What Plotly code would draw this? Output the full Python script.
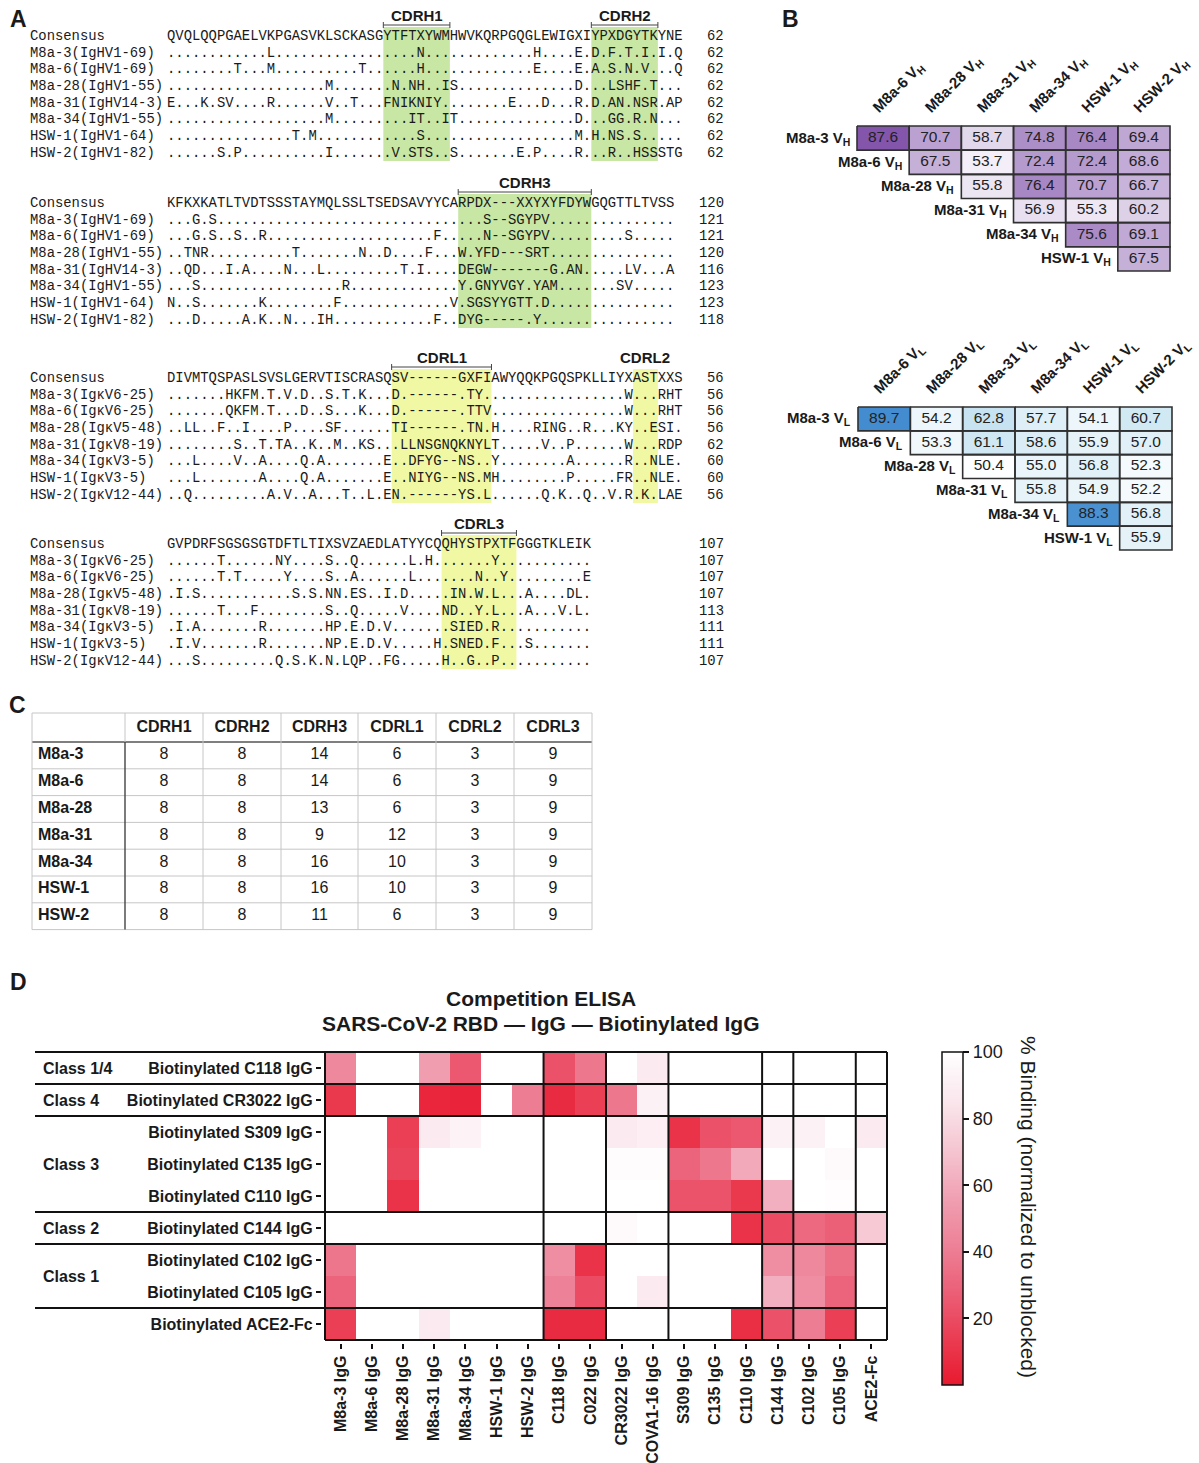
import plotly.graph_objects as go

# The figure fills the whole 1199x1463 page (the body margin is removed after plotting).
W, H = 1199, 1463
def px(x): return x / W
def py(y): return 1 - y / H

SANS = "Liberation Sans, Arial, Helvetica, sans-serif"
MONO = "Liberation Mono, Courier New, monospace"
INK = "#1a1a1a"

# ---------------- Panel A : alignment data ----------------
HEAVY_NAMES = ["M8a-3(IgHV1-69)", "M8a-6(IgHV1-69)", "M8a-28(IgHV1-55)", "M8a-31(IgHV14-3)",
               "M8a-34(IgHV1-55)", "HSW-1(IgHV1-64)", "HSW-2(IgHV1-82)"]
LIGHT_NAMES = ["M8a-3(IgκV6-25)", "M8a-6(IgκV6-25)", "M8a-28(IgκV5-48)", "M8a-31(IgκV8-19)",
               "M8a-34(IgκV3-5)", "HSW-1(IgκV3-5)", "HSW-2(IgκV12-44)"]

VH_A_CONS = "QVQLQQPGAELVKPGASVKLSCKASGYTFTXYWMHWVKQRPGQGLEWIGXIYPXDGYTKYNE"
VH_A_ROWS = [
    "." * 12 + "L" + "." * 17 + "N" + "." * 13 + "H" + "." * 4 + "E.D.F.T.I.I.Q",
    "." * 8 + "T...M" + "." * 10 + "T" + "." * 6 + "H" + "." * 13 + "E....E.A.S.N.V...Q",
    "." * 19 + "M" + "." * 7 + "N.NH..IS" + "." * 14 + "D...LSHF.T...",
    "E...K.SV....R......V..T...FNIKNIY" + "." * 8 + "E...D...R.D.AN.NSR.AP",
    "." * 19 + "M" + "." * 9 + "IT..IT" + "." * 14 + "D...GG.R.N...",
    "." * 15 + "T.M" + "." * 12 + "S" + "." * 18 + "M.H.NS.S.....",
    "......S.P" + "." * 10 + "I" + "." * 7 + "V.STS..S" + "." * 7 + "E.P....R...R..HSSSTG",
]
VH_A_LEN = [62, 62, 62, 62, 62, 62, 62]
VH_A_CONS_LEN = 62

VH_B_CONS = "KFKXKATLTVDTSSSTAYMQLSSLTSEDSAVYYCARPDX---XXYXYFDYWGQGTTLTVSS"
VH_B_ROWS = [
    "...G.S" + "." * 32 + "S--SGYPV" + "." * 15,
    "...G.S..S..R" + "." * 20 + "F" + "." * 5 + "N--SGYPV" + "." * 9 + "S" + "." * 5,
    "..TNR" + "." * 10 + "T" + "." * 7 + "N..D....F...W.YFD---SRT" + "." * 15,
    "..QD...I.A....N...L" + "." * 9 + "T.I....DEGW-------G.AN" + "." * 5 + "LV...A",
    "...S" + "." * 17 + "R" + "." * 13 + "Y.GNYVGY.YAM" + "." * 7 + "SV.....",
    "N..S" + "." * 7 + "K" + "." * 8 + "F" + "." * 13 + "V.SGSYYGTT.D" + "." * 15,
    "...D.....A.K..N...IH" + "." * 12 + "F..DYG-----.Y" + "." * 16,
]
VH_B_LEN = [121, 121, 120, 116, 123, 123, 118]
VH_B_CONS_LEN = 120

VL_A_CONS = "DIVMTQSPASLSVSLGERVTISCRASQSV------GXFIAWYQQKPGQSPKLLIYXASTXXS"
VL_A_ROWS = [
    "......." + "HKFM.T.V.D..S.T.K..." + "D.------.TY." + "." * 16 + "W...RHT",
    "......." + "QKFM.T...D..S...K..." + "D.------.TTV" + "." * 16 + "W...RHT",
    "..LL..F..I....P....SF......" + "TI------.TN." + "H....RING..R...KY..ESI.",
    "........S..T.TA..K..M..KS.." + ".LLNSGNQKNYL" + "T.....V..P......W...RDP",
    "...L....V..A....Q.A.......E" + "..DFYG--NS.." + "Y........A......R..NLE.",
    "...L.......A....Q.A.......E" + "..NIYG--NS.M" + "H........P.....FR..NLE.",
    "..Q.........A.V..A...T..L.EN" + ".------YS.L" + "......Q.K..Q..V.R.K.LAE",
]
VL_A_LEN = [56, 56, 56, 62, 60, 60, 56]
VL_A_CONS_LEN = 56

VL_B_CONS = "GVPDRFSGSGSGTDFTLTIXSVZAEDLATYYCQQHYSTPXTFGGGTKLEIK"
VL_B_ROWS = [
    "......T......NY....S..Q......L.H" + "." * 7 + "Y" + "." * 11,
    "......T.T.....Y....S..A......L" + "." * 7 + "N..Y" + "." * 9 + "E",
    ".I.S" + "." * 11 + "S.S.NN.ES..I.D" + "....." + "IN.W.L...A....DL.",
    "......T...F" + "." * 8 + "S..Q.....V....ND..Y.L...A...V.L.",
    ".I.A.......R.......HP.E.D.V" + "." * 7 + "SIED.R" + "." * 11,
    ".I.V.......R.......NP.E.D.V" + "....." + "H.SNED.F...S" + "." * 7,
    "...S" + "." * 9 + "Q.S.K.N.LQP..FG" + "....." + "H..G..P" + "." * 11,
]
VL_B_LEN = [107, 107, 107, 113, 111, 111, 107]
VL_B_CONS_LEN = 107

GREEN = "#c8e7a4"
YELLOW = "#f1f8a4"

BLOCKS = [
    dict(cons=VH_A_CONS, rows=VH_A_ROWS, names=HEAVY_NAMES, lens=VH_A_LEN, cons_len=VH_A_CONS_LEN, y=36,
         regions=[("CDRH1", 26, 34, GREEN, True), ("CDRH2", 51, 59, GREEN, True)]),
    dict(cons=VH_B_CONS, rows=VH_B_ROWS, names=HEAVY_NAMES, lens=VH_B_LEN, cons_len=VH_B_CONS_LEN, y=203,
         regions=[("CDRH3", 35, 51, GREEN, True)]),
    dict(cons=VL_A_CONS, rows=VL_A_ROWS, names=LIGHT_NAMES, lens=VL_A_LEN, cons_len=VL_A_CONS_LEN, y=378,
         regions=[("CDRL1", 27, 39, YELLOW, True), ("CDRL2", 56, 59, YELLOW, False)]),
    dict(cons=VL_B_CONS, rows=VL_B_ROWS, names=LIGHT_NAMES, lens=VL_B_LEN, cons_len=VL_B_CONS_LEN, y=544,
         regions=[("CDRL3", 33, 42, YELLOW, True)]),
]

# ---------------- Panel B : identity matrices ----------------
B_NAMES = ["M8a-3", "M8a-6", "M8a-28", "M8a-31", "M8a-34", "HSW-1", "HSW-2"]
VH_IDENTITY = [
    [87.6, 70.7, 58.7, 74.8, 76.4, 69.4],
    [None, 67.5, 53.7, 72.4, 72.4, 68.6],
    [None, None, 55.8, 76.4, 70.7, 66.7],
    [None, None, None, 56.9, 55.3, 60.2],
    [None, None, None, None, 75.6, 69.1],
    [None, None, None, None, None, 67.5],
]
VL_IDENTITY = [
    [89.7, 54.2, 62.8, 57.7, 54.1, 60.7],
    [None, 53.3, 61.1, 58.6, 55.9, 57.0],
    [None, None, 50.4, 55.0, 56.8, 52.3],
    [None, None, None, 55.8, 54.9, 52.2],
    [None, None, None, None, 88.3, 56.8],
    [None, None, None, None, None, 55.9],
]

# ---------------- Panel C : CDR lengths ----------------
C_COLS = ["CDRH1", "CDRH2", "CDRH3", "CDRL1", "CDRL2", "CDRL3"]
C_ROWS = ["M8a-3", "M8a-6", "M8a-28", "M8a-31", "M8a-34", "HSW-1", "HSW-2"]
C_LENGTHS = [
    [8, 8, 14, 6, 3, 9],
    [8, 8, 14, 6, 3, 9],
    [8, 8, 13, 6, 3, 9],
    [8, 8, 9, 12, 3, 9],
    [8, 8, 16, 10, 3, 9],
    [8, 8, 16, 10, 3, 9],
    [8, 8, 11, 6, 3, 9],
]

# ---------------- Panel D : competition ELISA ----------------
D_COLS = ["M8a-3 IgG", "M8a-6 IgG", "M8a-28 IgG", "M8a-31 IgG", "M8a-34 IgG", "HSW-1 IgG", "HSW-2 IgG",
          "C118 IgG", "C022 IgG", "CR3022 IgG", "COVA1-16 IgG", "S309 IgG", "C135 IgG", "C110 IgG",
          "C144 IgG", "C102 IgG", "C105 IgG", "ACE2-Fc"]
D_ROWS = ["Biotinylated C118 IgG", "Biotinylated CR3022 IgG", "Biotinylated S309 IgG",
          "Biotinylated C135 IgG", "Biotinylated C110 IgG", "Biotinylated C144 IgG",
          "Biotinylated C102 IgG", "Biotinylated C105 IgG", "Biotinylated ACE2-Fc"]
D_BINDING = [
    [45, 100, 100, 55, 25, 100, 100, 22, 38, 100, 88, 100, 100, 100, 100, 100, 100, 100],
    [12, 100, 100, 5, 4, 100, 40, 7, 15, 38, 92, 100, 100, 100, 100, 100, 100, 100],
    [100, 100, 15, 88, 93, 100, 100, 100, 100, 88, 90, 10, 22, 25, 92, 92, 100, 88],
    [100, 100, 17, 100, 100, 100, 100, 100, 100, 98, 98, 30, 38, 60, 100, 100, 97, 100],
    [100, 100, 10, 100, 100, 100, 100, 100, 100, 100, 100, 23, 23, 12, 62, 100, 99, 100],
    [100, 100, 100, 100, 100, 100, 100, 100, 100, 97, 100, 100, 100, 10, 20, 32, 28, 72],
    [37, 100, 100, 100, 100, 100, 100, 48, 10, 100, 100, 100, 100, 100, 48, 45, 35, 100],
    [30, 100, 100, 100, 100, 100, 100, 42, 20, 100, 88, 100, 100, 100, 62, 48, 30, 100],
    [15, 100, 100, 88, 100, 100, 100, 7, 7, 100, 100, 100, 100, 8, 22, 40, 15, 100],
]
D_CLASS_GROUPS = [(0, 1, "Class 1/4"), (1, 2, "Class 4"), (2, 5, "Class 3"),
                  (5, 6, "Class 2"), (6, 8, "Class 1"), (8, 9, "")]
D_COL_BREAKS = [7, 9, 11, 14, 15, 17]

# ======================================================================
fig = go.Figure()
ann = []
shapes = []

# ---------------- Panel A drawing ----------------
SEQ_X, CHW, NAME_X, NUM_X, STEP, MONO_SIZE = 167, 8.32, 30, 724, 16.65, 13.87
for blk in BLOCKS:
    n = len(blk["cons"])
    lines = [("Consensus", blk["cons"], blk["cons_len"])] + list(zip(blk["names"], blk["rows"], blk["lens"]))
    for k, (nm, seq, ln) in enumerate(lines):
        yy = blk["y"] + k * STEP
        seq = seq.ljust(n, ".")[:n]
        for text, x, anc in ((nm, NAME_X, "left"), (seq, SEQ_X, "left"), (str(ln), NUM_X, "right")):
            ann.append(dict(x=px(x), y=py(yy), xref="paper", yref="paper", text=text, showarrow=False,
                            xanchor=anc, yanchor="middle", borderpad=0, borderwidth=0,
                            font=dict(family=MONO, size=MONO_SIZE, color=INK)))
    y_top = blk["y"] - 9
    y_bot = blk["y"] + 7 * STEP + 8.5
    for label, s, e, col, bracket in blk["regions"]:
        x0 = SEQ_X + s * CHW
        x1 = SEQ_X + e * CHW
        shapes.append(dict(type="rect", xref="paper", yref="paper", x0=px(x0), x1=px(x1),
                           y0=py(y_bot), y1=py(y_top), fillcolor=col, line=dict(width=0), layer="below"))
        ann.append(dict(x=px((x0 + x1) / 2), y=py(blk["y"] - 20.5), xref="paper", yref="paper",
                        text="<b>%s</b>" % label, showarrow=False, xanchor="center", yanchor="middle",
                        borderpad=0, borderwidth=0,
                        font=dict(family=SANS, size=15, color=INK)))
        if bracket:
            yb = blk["y"] - 11
            shapes.append(dict(type="line", xref="paper", yref="paper", x0=px(x0), x1=px(x1),
                               y0=py(yb), y1=py(yb), line=dict(color="#444", width=1)))
            for xe in (x0, x1):
                shapes.append(dict(type="line", xref="paper", yref="paper", x0=px(xe), x1=px(xe),
                                   y0=py(yb - 3), y1=py(yb + 3), line=dict(color="#444", width=1)))

# ---------------- Panel B drawing ----------------
def identity_panel(values, sub, xa, ya, box, stops):
    x0, x1, y0, y1 = box
    n = len(values)
    cw = (x1 - x0) / n
    rh = (y1 - y0) / n
    fig.add_trace(go.Heatmap(z=values, x=list(range(n)), y=list(range(n)),
                             colorscale=stops, zmin=50, zmax=90, showscale=False, hoverinfo="skip",
                             xaxis=xa, yaxis=ya))
    bx, by, tx, ty, tt = [], [], [], [], []
    for r in range(n):
        for c in range(n):
            if values[r][c] is not None:
                bx += [c - 0.5, c + 0.5, c + 0.5, c - 0.5, c - 0.5, None]
                by += [r - 0.5, r - 0.5, r + 0.5, r + 0.5, r - 0.5, None]
                tx.append(c); ty.append(r); tt.append("%.1f" % values[r][c])
    fig.add_trace(go.Scatter(x=bx, y=by, mode="lines", line=dict(color="#303030", width=1.6),
                             hoverinfo="skip", showlegend=False, xaxis=xa, yaxis=ya))
    fig.add_trace(go.Scatter(x=tx, y=ty, mode="text", text=tt,
                             textfont=dict(family=SANS, size=15.5, color="#222"),
                             hoverinfo="skip", showlegend=False, xaxis=xa, yaxis=ya))
    for r in range(n):
        ann.append(dict(x=r - 0.5, y=r, xref=xa, yref=ya, xanchor="right", yanchor="middle", xshift=-5,
                        text="<b>%s V<sub>%s</sub></b>" % (B_NAMES[r], sub), showarrow=False,
                        font=dict(family=SANS, size=15, color=INK)))
    key_x = "xaxis" + xa[1:]
    key_y = "yaxis" + ya[1:]
    fig.update_layout(**{
        key_x: dict(domain=[px(x0 - 0.1 * cw), px(x1 + 0.1 * cw)], range=[-0.6, n - 0.4], side="top",
                    tickvals=[c - 0.18 for c in range(n)],
                    ticktext=["<b>%s V<sub>%s</sub></b>" % (nm, sub) for nm in B_NAMES[1:]],
                    tickangle=-45, ticks="", showgrid=False, zeroline=False, showline=False,
                    tickfont=dict(family=SANS, size=15, color=INK), anchor=ya, automargin=False,
                    ticklabelstandoff=4, ticklabeloverflow="allow"),
        key_y: dict(domain=[py(y1 + 0.1 * rh), py(y0 - 0.1 * rh)], range=[n - 0.4, -0.6], visible=False,
                    anchor=xa, showgrid=False, zeroline=False),
    })

identity_panel(VH_IDENTITY, "H", "x", "y", (857, 1170, 126, 271),
               [[0, "#ffffff"], [1, "#7b4aa6"]])
identity_panel(VL_IDENTITY, "L", "x2", "y2", (858, 1172, 407, 550),
               [[0, "#ffffff"], [0.3, "#cbe6f2"], [1, "#428bcf"]])

# ---------------- Panel C drawing ----------------
C_EDGES = [32, 125, 203, 281, 358, 436, 514, 592]
C_TOP, C_HEAD_BOT, C_ROW_H = 713, 742, 26.8
c_centers = [(C_EDGES[i + 1] + C_EDGES[i + 2]) / 2 for i in range(6)]
r_centers = [C_HEAD_BOT + (k + 0.5) * C_ROW_H for k in range(len(C_ROWS))]
c_bottom = C_HEAD_BOT + len(C_ROWS) * C_ROW_H
cfont = dict(family=SANS, size=16, color=INK)
fig.add_trace(go.Scatter(x=c_centers, y=[(C_TOP + C_HEAD_BOT) / 2] * 6, mode="text",
                         text=["<b>%s</b>" % c for c in C_COLS], textfont=cfont,
                         hoverinfo="skip", xaxis="x3", yaxis="y3", showlegend=False))
fig.add_trace(go.Scatter(x=[38] * len(C_ROWS), y=r_centers, mode="text", textposition="middle right",
                         text=["<b>%s</b>" % r for r in C_ROWS], textfont=cfont,
                         hoverinfo="skip", xaxis="x3", yaxis="y3", showlegend=False))
vx, vy, vt = [], [], []
for k, row in enumerate(C_LENGTHS):
    for j, v in enumerate(row):
        vx.append(c_centers[j]); vy.append(r_centers[k]); vt.append(str(v))
fig.add_trace(go.Scatter(x=vx, y=vy, mode="text", text=vt, textfont=cfont,
                         hoverinfo="skip", xaxis="x3", yaxis="y3", showlegend=False))
LIGHT = "#c6c6c6"
hy = [C_TOP] + [C_HEAD_BOT + k * C_ROW_H for k in range(1, len(C_ROWS) + 1)]
for yv in hy:
    shapes.append(dict(type="line", xref="x3", yref="y3", x0=C_EDGES[0], x1=C_EDGES[-1], y0=yv, y1=yv,
                       line=dict(color=LIGHT, width=1)))
shapes.append(dict(type="line", xref="x3", yref="y3", x0=C_EDGES[0], x1=C_EDGES[-1], y0=C_HEAD_BOT,
                   y1=C_HEAD_BOT, line=dict(color="#555", width=1.4)))
for i, xv in enumerate(C_EDGES):
    if i == 1:
        shapes.append(dict(type="line", xref="x3", yref="y3", x0=xv, x1=xv, y0=C_TOP, y1=C_HEAD_BOT,
                           line=dict(color=LIGHT, width=1)))
        shapes.append(dict(type="line", xref="x3", yref="y3", x0=xv, x1=xv, y0=C_HEAD_BOT, y1=c_bottom,
                           line=dict(color="#444", width=1.4)))
    else:
        shapes.append(dict(type="line", xref="x3", yref="y3", x0=xv, x1=xv, y0=C_TOP, y1=c_bottom,
                           line=dict(color=LIGHT, width=1)))
fig.update_layout(
    xaxis3=dict(domain=[px(30), px(594)], range=[30, 594], visible=False, anchor="y3"),
    yaxis3=dict(domain=[py(932), py(711)], range=[932, 711], visible=False, anchor="x3"),
)

# ---------------- Panel D drawing ----------------
D_LEFT, D_RIGHT, D_TOP, D_ROW_H = 325, 887, 1052, 32
ncol, nrow = len(D_COLS), len(D_ROWS)
D_COL_W = (D_RIGHT - D_LEFT) / ncol
D_BOT = D_TOP + nrow * D_ROW_H
D_SCALE = [[0, "#e8192f"], [0.1, "#ea3348"], [0.25, "#eb5870"], [0.4, "#ed7d93"],
           [0.55, "#f09db0"], [0.7, "#f5c4d0"], [0.85, "#fae6ec"], [1, "#ffffff"]]
fig.add_trace(go.Heatmap(
    z=D_BINDING, x=list(range(ncol)), y=list(range(nrow)), zmin=0, zmax=100, colorscale=D_SCALE,
    hoverinfo="skip", xaxis="x4", yaxis="y4",
    colorbar=dict(x=px(942), xanchor="left", y=py(D_TOP), yanchor="top", len=333 / H, lenmode="fraction",
                  thickness=21, thicknessmode="pixels", outlinewidth=1.5, outlinecolor="#111",
                  tickvals=[20, 40, 60, 80, 100], ticks="outside", ticklen=6, tickwidth=1.5, tickcolor="#111",
                  tickfont=dict(family=SANS, size=18, color=INK), xpad=0, ypad=0),
))
fig.update_layout(
    xaxis4=dict(domain=[px(D_LEFT - 0.1 * D_COL_W), px(D_RIGHT + 0.1 * D_COL_W)], range=[-0.6, ncol - 0.4],
                tickvals=list(range(ncol)), ticktext=D_COLS, tickangle=-90, ticks="outside", ticklen=5,
                tickwidth=1.5, tickcolor="#111", showgrid=False, zeroline=False, showline=False,
                tickfont=dict(family=SANS, size=16, color=INK, weight="bold"), anchor="y4", automargin=False,
                ticklabeloverflow="allow"),
    yaxis4=dict(domain=[py(D_BOT + 0.1 * D_ROW_H), py(D_TOP - 0.1 * D_ROW_H)], range=[nrow - 0.4, -0.6],
                tickvals=list(range(nrow)), ticktext=D_ROWS, ticks="outside", ticklen=5, tickwidth=1.5,
                tickcolor="#111", showgrid=False, zeroline=False, showline=False,
                tickfont=dict(family=SANS, size=16, color=INK, weight="bold"), anchor="x4", automargin=False),
)
# group frame lines
row_bounds = sorted(set([g[0] for g in D_CLASS_GROUPS]))
for b in row_bounds:
    yv = D_TOP + b * D_ROW_H
    shapes.append(dict(type="line", xref="paper", yref="paper", x0=px(35), x1=px(D_RIGHT),
                       y0=py(yv), y1=py(yv), line=dict(color="#111", width=2)))
shapes.append(dict(type="line", xref="paper", yref="paper", x0=px(D_LEFT), x1=px(D_RIGHT),
                   y0=py(D_BOT), y1=py(D_BOT), line=dict(color="#111", width=2)))
for b in [0] + D_COL_BREAKS + [ncol]:
    xv = D_LEFT + b * D_COL_W
    shapes.append(dict(type="line", xref="paper", yref="paper", x0=px(xv), x1=px(xv),
                       y0=py(D_TOP), y1=py(D_BOT), line=dict(color="#111", width=2)))
for a, b, label in D_CLASS_GROUPS:
    if label:
        ann.append(dict(x=px(41), y=(a + b - 1) / 2, xref="paper", yref="y4", text="<b>%s</b>" % label,
                        showarrow=False, xanchor="left", yanchor="middle",
                        font=dict(family=SANS, size=16, color=INK)))
ann.append(dict(x=px(541), y=py(999), xref="paper", yref="paper", text="<b>Competition ELISA</b>",
                showarrow=False, xanchor="center", yanchor="middle", font=dict(family=SANS, size=21, color=INK)))
ann.append(dict(x=px(541), y=py(1023), xref="paper", yref="paper",
                text="<b>SARS-CoV-2 RBD — IgG — Biotinylated IgG</b>",
                showarrow=False, xanchor="center", yanchor="middle", font=dict(family=SANS, size=21, color=INK)))
ann.append(dict(x=px(1029), y=py(1207), xref="paper", yref="paper", text="% Binding (normalized to unblocked)",
                textangle=90, showarrow=False, xanchor="center", yanchor="middle",
                font=dict(family=SANS, size=21, color=INK)))

# ---------------- panel letters ----------------
for letter, x, y in (("A", 18, 19), ("B", 791, 19), ("C", 17, 705), ("D", 18, 982)):
    ann.append(dict(x=px(x), y=py(y), xref="paper", yref="paper", text="<b>%s</b>" % letter,
                    showarrow=False, xanchor="center", yanchor="middle", borderpad=0, borderwidth=0,
                    font=dict(family=SANS, size=23, color=INK)))

fig.update_layout(width=W, height=H, autosize=False, margin=dict(l=0, r=0, t=0, b=0),
                  paper_bgcolor="white", plot_bgcolor="white", showlegend=False, hovermode=False,
                  annotations=ann, shapes=shapes)
fig.write_html("out.html", config={"displayModeBar": False},
               post_script="document.body.style.margin='0px';document.body.style.overflow='hidden';")
